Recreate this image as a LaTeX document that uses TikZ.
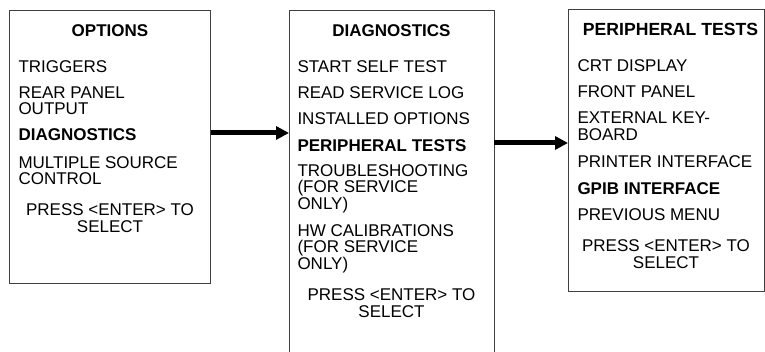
\documentclass[tikz,border=0pt]{standalone}
\usepackage{fontspec}
\setmainfont{Liberation Sans}
\usetikzlibrary{arrows.meta}
\begin{document}
\begin{tikzpicture}[x=1pt,y=-1pt,
  menubox/.style={draw=black!75, line width=1pt},
  txt/.style={anchor=base west, inner sep=0pt, font=\fontsize{17}{17}\selectfont},
  ctr/.style={anchor=base, inner sep=0pt, font=\fontsize{17}{17}\selectfont},
  hd/.style={anchor=base, inner sep=0pt, font=\fontsize{17}{17}\selectfont\bfseries},
  bold/.style={txt, font=\fontsize{17}{17}\selectfont\bfseries},
  flow/.style={line width=5pt, -{Triangle[length=13pt,width=13pt]}, shorten >=0pt}]
\useasboundingbox (0,0) rectangle (765,352);
% boxes
\draw[menubox] (9.5,11) rectangle (210.5,284);
\coordinate (b1e) at (210.5,133);
\draw[menubox] (289,11) rectangle (494,362);
\coordinate (b2w) at (289,133);
\coordinate (b2e) at (494,143);
\draw[menubox] (568,10) rectangle (764,292);
\coordinate (b3w) at (568,143);
% box 1
\node[hd] (o0) at (110,36.5) {OPTIONS};
\node[txt] (o1) at (18.3,72.7) {TRIGGERS};
\node[txt] (o2) at (18.3,98.5) {REAR PANEL};
\node[txt] (o2b) at (18.3,115) {OUTPUT};
\node[bold] (o3) at (18.3,140.7) {DIAGNOSTICS};
\node[txt] (o4) at (18.3,168.3) {MULTIPLE SOURCE};
\node[txt] (o4b) at (18.3,184.5) {CONTROL};
\node[ctr] (o5) at (110,216) {PRESS <ENTER> TO};
\node[ctr] (o5b) at (110,233) {SELECT};
% box 2
\node[hd] (d0) at (391.5,36.7) {DIAGNOSTICS};
\node[txt] (d1) at (297.3,72.7) {START SELF TEST};
\node[txt] (d2) at (297.3,99) {READ SERVICE LOG};
\node[txt] (d3) at (297.3,124.5) {INSTALLED OPTIONS};
\node[bold] (d4) at (297.3,151.7) {PERIPHERAL TESTS};
\node[txt] (d5) at (297.3,176.7) {TROUBLESHOOTING};
\node[txt] (d5b) at (297.3,193) {(FOR SERVICE};
\node[txt] (d5c) at (297.3,209.3) {ONLY)};
\node[txt] (d6) at (297.3,236.7) {HW CALIBRATIONS};
\node[txt] (d6b) at (297.3,253) {(FOR SERVICE};
\node[txt] (d6c) at (297.3,269.3) {ONLY)};
\node[ctr] (d7) at (391.5,300.5) {PRESS <ENTER> TO};
\node[ctr] (d7b) at (391.5,318) {SELECT};
% box 3
\node[hd, font=\fontsize{17.6}{17}\selectfont\bfseries] (p0) at (670.5,36) {PERIPHERAL TESTS};
\node[txt] (p1) at (577.3,71.7) {CRT DISPLAY};
\node[txt] (p2) at (577.3,97.7) {FRONT PANEL};
\node[txt] (p3) at (577.3,124) {EXTERNAL KEY-};
\node[txt] (p3b) at (577.3,140.3) {BOARD};
\node[txt] (p4) at (577.3,167.3) {PRINTER INTERFACE};
\node[bold] (p5) at (577.3,194.3) {GPIB INTERFACE};
\node[txt] (p6) at (577.3,220.7) {PREVIOUS MENU};
\node[ctr] (p7) at (666,252) {PRESS <ENTER> TO};
\node[ctr] (p7b) at (666,269) {SELECT};
% arrows
\draw[flow] (b1e) -- (b2w);
\draw[flow] (b2e) -- (b3w);
\end{tikzpicture}
\end{document}
